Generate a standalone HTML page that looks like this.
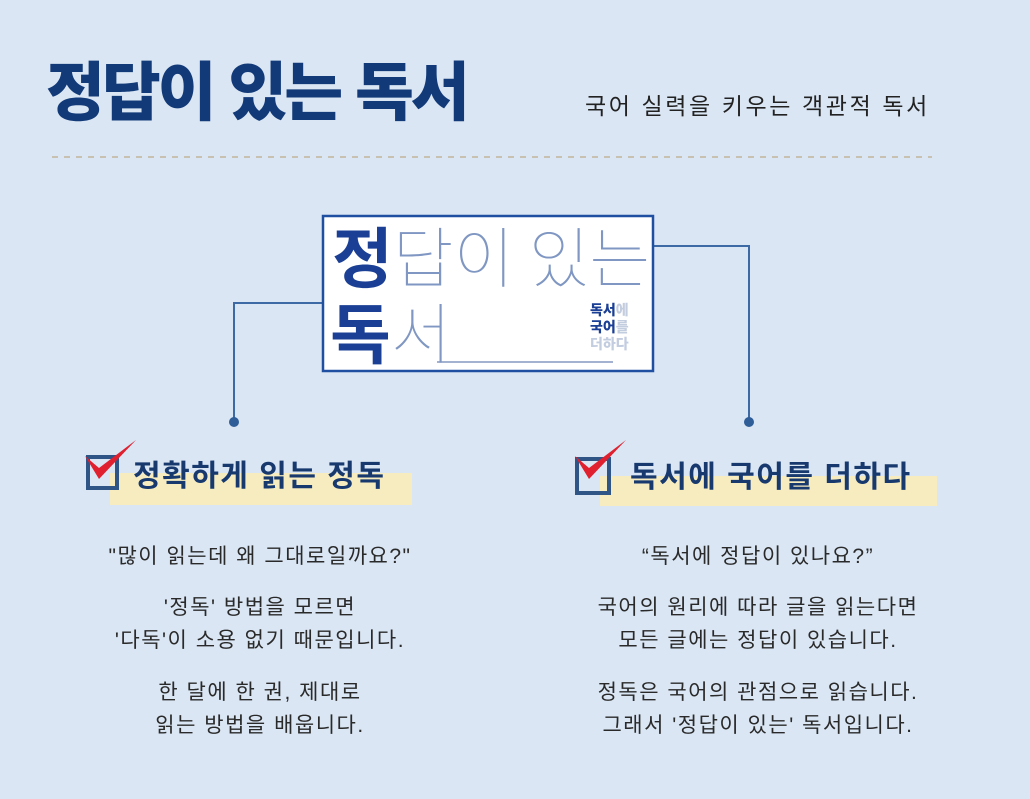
<!DOCTYPE html>
<html><head><meta charset="utf-8"><style>
body{margin:0;width:1030px;height:799px;background:#dae6f4;position:relative;overflow:hidden;font-family:"Liberation Sans","Noto Sans CJK KR",sans-serif;}
.a{position:absolute;white-space:nowrap;}
.title{left:46px;top:54px;font-size:64px;font-weight:900;color:#123a78;letter-spacing:-3px;line-height:78px;}
.sub{left:585px;top:91px;font-size:23px;color:#222;line-height:30px;letter-spacing:2.6px;}
.body{font-size:21px;color:#2a2a2a;line-height:33px;text-align:center;width:440px;letter-spacing:1.5px;}
.hl{background:#f6ecc0;position:absolute;}
.ht{font-size:30px;font-weight:700;color:#17396e;line-height:40px;letter-spacing:1.5px;}
.cb{position:absolute;border:4px solid #2f5486;box-sizing:border-box;}
</style></head><body>
<div class="a title">정답이 있는 독서</div>
<div class="a sub">국어 실력을 키우는 객관적 독서</div>
<svg class="a" style="left:0;top:0" width="1030" height="799">
<line x1="52" y1="157" x2="932" y2="157" stroke="#c8c0b0" stroke-width="2" stroke-dasharray="6,6"/>
<polyline points="322,303 234,303 234,422" fill="none" stroke="#3d6aa5" stroke-width="2"/>
<polyline points="653,246 749,246 749,422" fill="none" stroke="#3d6aa5" stroke-width="2"/>
<circle cx="234" cy="422" r="5" fill="#2f5d98"/>
<circle cx="749" cy="422" r="5" fill="#2f5d98"/>
<rect x="323" y="216" width="330" height="155" fill="#fff" stroke="#1e4fa0" stroke-width="2.5"/>
<line x1="437" y1="362" x2="613" y2="362" stroke="#6b85b5" stroke-width="1.2"/>
</svg>
<div class="a" style="left:332px;top:214px;font-size:66px;line-height:80px;color:#1a3f94;"><b>정</b><span style="font-family:'Noto Sans CJK KR',sans-serif;font-weight:100;color:#7f97c2;">답이 있는</span></div>
<div class="a" style="left:330px;top:290px;font-size:66px;line-height:80px;color:#1a3f94;"><b>독</b><span style="font-family:'Noto Sans CJK KR',sans-serif;font-weight:100;color:#7f97c2;">서</span></div>
<div class="a" style="left:590px;top:302px;font-size:14px;line-height:17px;font-weight:900;color:#1a3f94;">독서<span style="color:#c3cde0">에</span><br>국어<span style="color:#c3cde0">를</span><br><span style="color:#c3cde0">더하다</span></div>

<div class="hl" style="left:110px;top:473px;width:302px;height:32px"></div>
<div class="cb" style="left:86px;top:455px;width:33px;height:35px"></div>
<svg class="a" style="left:80px;top:436px" width="60" height="50"><path d="M5 20 L19 43 L56 4 L19 32 Z" fill="#e0202e"/></svg>
<div class="a ht" style="left:133px;top:457px">정확하게 읽는 정독</div>

<div class="hl" style="left:600px;top:476px;width:337px;height:30px"></div>
<div class="cb" style="left:575px;top:457px;width:36px;height:38px"></div>
<svg class="a" style="left:570px;top:436px" width="60" height="50"><path d="M5 20 L19 43 L56 4 L19 32 Z" fill="#e0202e"/></svg>
<div class="a ht" style="left:630px;top:458px">독서에 국어를 더하다</div>

<div class="a body" style="left:40px;top:540px">"많이 읽는데 왜 그대로일까요?"</div>
<div class="a body" style="left:40px;top:591px">'정독' 방법을 모르면<br>'다독'이 소용 없기 때문입니다.</div>
<div class="a body" style="left:40px;top:676px">한 달에 한 권, 제대로<br>읽는 방법을 배웁니다.</div>

<div class="a body" style="left:538px;top:540px">“독서에 정답이 있나요?”</div>
<div class="a body" style="left:538px;top:591px">국어의 원리에 따라 글을 읽는다면<br>모든 글에는 정답이 있습니다.</div>
<div class="a body" style="left:538px;top:676px">정독은 국어의 관점으로 읽습니다.<br>그래서 '정답이 있는' 독서입니다.</div>
</body></html>
